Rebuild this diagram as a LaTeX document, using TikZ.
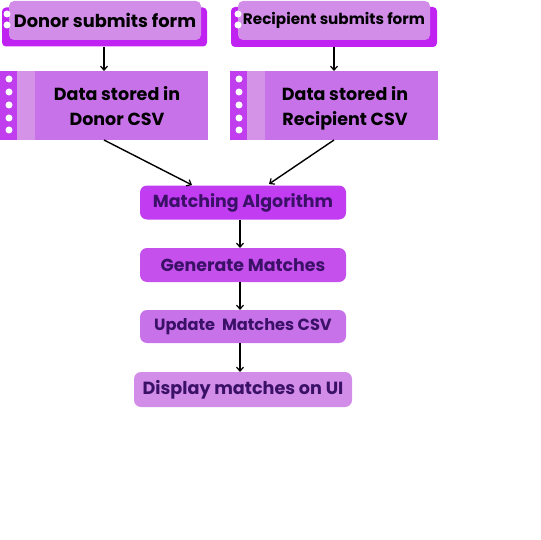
\documentclass[tikz,border=0pt]{standalone}
\usepackage{fontspec}
\setmainfont{Poppins}
\usetikzlibrary{arrows.meta}
\definecolor{vivid}{HTML}{C022F2}
\definecolor{lilac}{HTML}{D18DE8}
\definecolor{mauve}{HTML}{C872EA}
\definecolor{stripdark}{HTML}{C03EEE}
\definecolor{striplight}{HTML}{D493E6}
\definecolor{algo}{HTML}{C23DF2}
\definecolor{gen}{HTML}{C550EC}
\definecolor{txtpurple}{HTML}{3B1168}
\tikzset{
  box/.style={rectangle, inner sep=0pt, outer sep=0pt},
  backlayer/.style={box, fill=vivid, rounded corners=4pt},
  frontlayer/.style={box, fill=lilac, rounded corners=5pt, font=\bfseries\fontsize{17.8}{20}\selectfont},
  databox/.style={box, fill=mauve, minimum width=208pt, minimum height=69pt, anchor=north west},
  stepnode/.style={box, rounded corners=7pt, minimum width=206pt, minimum height=34pt,
     text=txtpurple, font=\bfseries\fontsize{17.4}{20}\selectfont},
  datatext/.style={align=center, font=\bfseries\fontsize{17.5}{25}\selectfont, inner sep=0pt},
  dot/.style={circle, fill=white, minimum size=7pt, inner sep=0pt},
  conn/.style={line width=1.4pt, -{Straight Barb[length=4pt,width=7pt,line width=1.2pt]}}
}
\begin{document}
\begin{tikzpicture}[x=1pt,y=-1pt]
\useasboundingbox (0,0) rectangle (540,540);
\clip (0,0) rectangle (540,540);
% top-left
\node[backlayer, minimum width=205pt, minimum height=39pt] (dback) at (104.5,27) {};
\node[frontlayer, minimum width=192pt, minimum height=39pt] (donor) at (105,20.5) {Donor submits form};
\node[dot] (dd1) at (7,14) {};
\node[dot] (dd2) at (7,25) {};
% top-right
\node[backlayer, minimum width=206pt, minimum height=40pt] (rback) at (334,27) {};
\node[frontlayer, minimum width=192pt, minimum height=39pt, font=\bfseries\fontsize{15.2}{18}\selectfont] (recip) at (334,20.5) {Recipient submits form};
\node[dot] (rd1) at (238,14) {};
\node[dot] (rd2) at (238,25) {};
% data boxes
\node[databox] (dcsv) at (0,71) {};
\fill[stripdark] (0,71) rectangle (17,140);
\fill[striplight] (17,71) rectangle (35,140);
\foreach \yy [count=\i] in {79,92,105,118,130} \node[dot] (dcd\i) at (9,\yy) {};
\node[datatext] (dcsvtext) at (117,106) {Data stored in\\Donor CSV};
\node[databox] (rcsv) at (230,71) {};
\fill[stripdark] (230,71) rectangle (247,140);
\fill[striplight] (247,71) rectangle (265,140);
\foreach \yy [count=\i] in {79,92,105,118,130} \node[dot] (rcd\i) at (239,\yy) {};
\node[datatext] (rcsvtext) at (345,108) {Data stored in\\Recipient CSV};
% steps
\node[stepnode, fill=algo] (algo) at (243,202.5) {Matching Algorithm};
\node[stepnode, fill=gen] (gen) at (243,265) {Generate Matches};
\node[stepnode, fill=mauve, minimum height=33pt, font=\bfseries\fontsize{16.2}{20}\selectfont] (upd) at (243,326.5) {Update\ \ Matches CSV};
\node[stepnode, fill=lilac, minimum width=218pt, minimum height=35pt, font=\bfseries\fontsize{17.6}{20}\selectfont] (disp) at (243,389.5) {Display matches on UI};
% connectors
\draw[conn] (104,47) -- (dcsv.north -| 104,0);
\draw[conn] (334,47) -- (rcsv.north -| 334,0);
\draw[conn] (dcsv.south -| 104,0) -- (192,185);
\draw[conn] (rcsv.south -| 334,0) -- (269,184);
\draw[conn] (algo.south -| 240,0) -- (gen.north -| 240,0);
\draw[conn] (gen.south -| 240,0) -- (upd.north -| 240,0);
\draw[conn] (upd.south -| 240,0) -- (disp.north -| 240,0);
\end{tikzpicture}
\end{document}
